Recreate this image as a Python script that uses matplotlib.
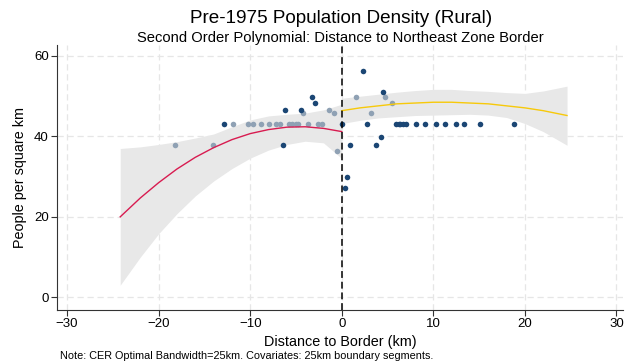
import numpy as np
import matplotlib
matplotlib.use("Agg")
import matplotlib.pyplot as plt

plt.rcParams['font.family'] = ['Liberation Sans', 'DejaVu Sans']

# scatter points (distance km, people per sq km)
gray_x = [-18.2, -14.1, -11.9, -10.2, -9.7, -8.8, -7.9, -7.2, -6.7, -5.8, -5.45, -5.05, -4.8,
          -3.7, -2.6, -2.15, -4.2, -1.4, -0.9, -0.5, 1.6, 4.75, 5.5, 3.2]
gray_y = [37.8, 37.8, 43.2, 43.2, 43.2, 43.2, 43.2, 43.2, 43.2, 43.2, 43.2, 43.2, 43.2,
          43.2, 43.2, 43.2, 45.7, 46.5, 45.7, 36.4, 49.7, 49.7, 48.4, 45.7]

navy_x = [-12.9, -6.25, -4.4, -3.2, -2.9, -6.4, 0.0, 0.9, 2.3, 4.5, 2.8, 5.9, 6.2, 6.4, 6.7, 7.0,
          8.1, 9.1, 10.25, 11.3, 12.5, 13.3, 15.1, 18.8, 4.3, 3.7, 0.6, 0.4]
navy_y = [43.2, 46.5, 46.5, 49.7, 48.4, 37.8, 43.2, 37.8, 56.3, 51.0, 43.2, 43.2, 43.2, 43.2, 43.2, 43.2,
          43.2, 43.2, 43.2, 43.2, 43.2, 43.2, 43.2, 43.2, 39.8, 37.8, 29.8, 27.1]

# left side fit and confidence band
left_x = [-24.2, -22, -20, -18, -16, -14, -12, -10, -8, -6, -4, -2, 0]
left_fit = [20.0, 24.7, 28.5, 31.9, 34.8, 37.2, 39.2, 40.7, 41.7, 42.3, 42.4, 42.0, 41.2]
left_hi = [37.0, 37.4, 38.0, 38.7, 39.6, 40.6, 42.4, 44.1, 45.1, 45.5, 45.8, 46.6, 48.0]
left_lo = [3.0, 10.0, 15.8, 20.8, 25.2, 28.9, 32.0, 34.6, 36.6, 38.0, 38.8, 38.4, 34.5]

# right side fit and confidence band
right_x = [0, 2, 4, 6, 8, 10, 12, 14, 16, 18, 20, 22, 24.6]
right_fit = [46.4, 47.1, 47.6, 48.1, 48.3, 48.5, 48.5, 48.3, 48.1, 47.6, 47.1, 46.4, 45.2]
right_hi = [49.5, 50.0, 50.5, 51.0, 51.4, 51.7, 51.7, 51.4, 51.2, 50.9, 50.7, 51.3, 52.5]
right_lo = [43.2, 44.0, 44.6, 44.9, 45.2, 45.3, 45.4, 45.5, 45.3, 44.7, 43.2, 41.2, 37.8]

xticks = [-30, -20, -10, 0, 10, 20, 30]
yticks = [0, 20, 40, 60]

fig = plt.figure(figsize=(6.43, 3.64), dpi=100)
ax = fig.add_axes([0.0887, 0.148, 0.88, 0.728])

ax.fill_between(left_x, left_lo, left_hi, color="#e8e8e8", lw=0, zorder=1)
ax.fill_between(right_x, right_lo, right_hi, color="#e8e8e8", lw=0, zorder=1)

ax.scatter(gray_x, gray_y, s=16, color="#8fa1b4", lw=0, zorder=3)
ax.scatter(navy_x, navy_y, s=16, color="#1b4674", lw=0, zorder=3)

ax.plot(left_x, left_fit, color="#d81b50", lw=1.0, zorder=4)
ax.plot(right_x, right_fit, color="#f7c90a", lw=1.0, zorder=4)

ax.axvline(0, color="black", lw=1.1, ls=(0, (4.5, 2.5)), zorder=5)

ax.set_xlim(-31.1, 30.7)
ax.set_ylim(-3.2, 62.7)
ax.set_xticks(xticks)
ax.set_yticks(yticks)
ax.tick_params(labelsize=9.5, length=4, width=0.8, color="#333333", pad=2)
ax.grid(True, color="#e6e6e6", ls=(0, (5, 3)), lw=0.9)
ax.set_axisbelow(True)
for s in ["top", "right"]:
    ax.spines[s].set_visible(False)
for s in ["left", "bottom"]:
    ax.spines[s].set_color("#333333")
    ax.spines[s].set_linewidth(0.8)

ax.set_xlabel("Distance to Border (km)", fontsize=10.4, labelpad=3)
ax.set_ylabel("People per square km", fontsize=10.4, labelpad=5)

fig.text(0.53, 0.938, "Pre-1975 Population Density (Rural)", ha="center", fontsize=13.6)
fig.text(0.53, 0.885, "Second Order Polynomial: Distance to Northeast Zone Border", ha="center", fontsize=10.6)
fig.text(0.093, 0.013, "Note: CER Optimal Bandwidth=25km. Covariates: 25km boundary segments.", fontsize=7.8)

fig.savefig("out.png", dpi=100)
